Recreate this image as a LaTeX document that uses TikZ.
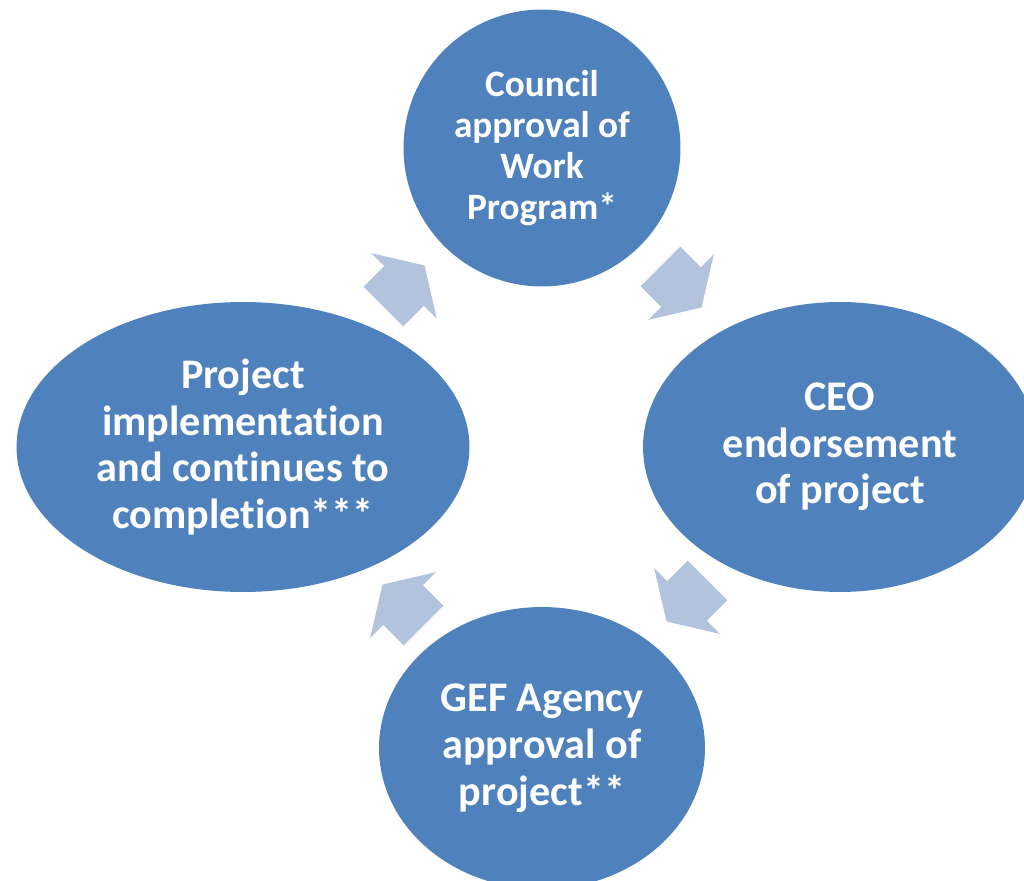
\documentclass[tikz,border=0pt]{standalone}
\usepackage{fontspec}
\setmainfont{Carlito}[Ligatures=NoCommon]
\usetikzlibrary{shapes.geometric}

\definecolor{stageblue}{HTML}{4F81BD}
\definecolor{arrowblue}{HTML}{B3C3DE}

\tikzset{
  cyclearrow/.pic={
    \fill[arrowblue] (-29,-28) -- (0,-28) -- (0,-46.5) -- (29,0) -- (0,46.5) -- (0,28) -- (-29,28) -- cycle;
  }
}

\begin{document}
\begin{tikzpicture}[x=0.02cm, y=-0.02cm,
    stage/.style={ellipse, fill=stageblue, inner sep=0pt, align=center,
      text=white, font=\bfseries\fontsize{24}{26.6}\selectfont}]
  \useasboundingbox (0,0) rectangle (1024,881);
  \clip (0,0) rectangle (1024,881);
  % four stages
  \node[stage, minimum width=5.54cm, minimum height=5.54cm,
    font=\bfseries\fontsize{21.2}{23.2}\selectfont] (council) at (542,148) {Council\\approval of\\Work\\Program*};
  \node[stage, minimum width=7.88cm, minimum height=5.8cm] (ceo) at (840,447) {CEO\\endorsement\\of project};
  \node[stage, minimum width=6.52cm, minimum height=5.64cm] (agency) at (542,748) {GEF Agency\\approval of\\project**};
  \node[stage, minimum width=9.06cm, minimum height=5.8cm] (impl) at (243,447) {Project\\implementation\\and continues to\\completion***};
  % arrows between stages
  \pic[rotate=-45] (a1) at (681,287) {cyclearrow};
  \pic[rotate=-135] (a2) at (687,601) {cyclearrow};
  \pic[rotate=135] (a3) at (403,605) {cyclearrow};
  \pic[rotate=45] (a4) at (404,286) {cyclearrow};
\end{tikzpicture}
\end{document}
